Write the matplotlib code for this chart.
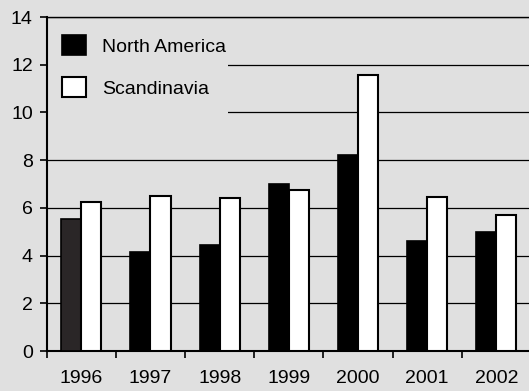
import matplotlib
matplotlib.use('Agg')
import matplotlib.pyplot as plt
from matplotlib.patches import Rectangle, Patch
import numpy as np

years = ['1996', '1997', '1998', '1999', '2000', '2001', '2002']
north_america = [5.55, 4.15, 4.45, 7.0, 8.2, 4.6, 5.0]
scandinavia = [6.25, 6.5, 6.4, 6.75, 11.55, 6.45, 5.7]
na_colors = ['#2a2627', 'black', 'black', 'black', 'black', 'black', 'black']

plt.rcParams['font.family'] = ['Liberation Sans', 'DejaVu Sans']
bg = '#e0e0e0'

fig = plt.figure(figsize=(5.29, 3.91), dpi=100, facecolor=bg)
ax = fig.add_axes([0.0883, 0.1023, 0.9155, 0.8542], facecolor=bg)

x = np.arange(len(years))
w = 0.29
ax.bar(x - w / 2, north_america, w, color=na_colors, edgecolor='black',
       linewidth=1.2, zorder=3)
ax.bar(x + w / 2, scandinavia, w, color='white', edgecolor='black',
       linewidth=1.5, zorder=3)

ax.set_ylim(0, 14)
ax.set_xlim(-0.5, len(years) - 0.5)
ax.set_yticks(np.arange(0, 15, 2))
ax.yaxis.grid(True, color='black', linewidth=0.9, zorder=0)
ax.set_axisbelow(True)

# category boundaries as ticks, year labels centred
ax.set_xticks(np.arange(-0.5, len(years), 1))
ax.set_xticklabels([])
ax.set_xticks(x, minor=True)
ax.set_xticklabels(years, minor=True)
ax.tick_params(axis='x', which='major', direction='out', length=5, width=1.2)
ax.tick_params(axis='x', which='minor', length=0, pad=14, labelsize=14)
ax.tick_params(axis='y', direction='out', length=5, width=1.2, pad=5, labelsize=14)

for s in ['left', 'bottom']:
    ax.spines[s].set_linewidth(1.5)
ax.spines['top'].set_linewidth(1.0)
ax.spines['right'].set_visible(False)

# legend sits on a plain patch that hides the gridlines behind it
ax.add_patch(Rectangle((0, 0.70), 0.374, 0.295, transform=ax.transAxes,
                       facecolor=bg, edgecolor='none', zorder=2))
handles = [Patch(facecolor='black', edgecolor='black', linewidth=1.2, label='North America'),
           Patch(facecolor='white', edgecolor='black', linewidth=1.5, label='Scandinavia')]
ax.legend(handles=handles, loc='upper left', bbox_to_anchor=(0.032, 0.945),
          fontsize=14, frameon=False, handlelength=1.2, handleheight=1.2,
          labelspacing=1.1, handletextpad=0.85, borderpad=0.0,
          borderaxespad=0.0)

fig.savefig('out.png', dpi=100, facecolor=bg)
